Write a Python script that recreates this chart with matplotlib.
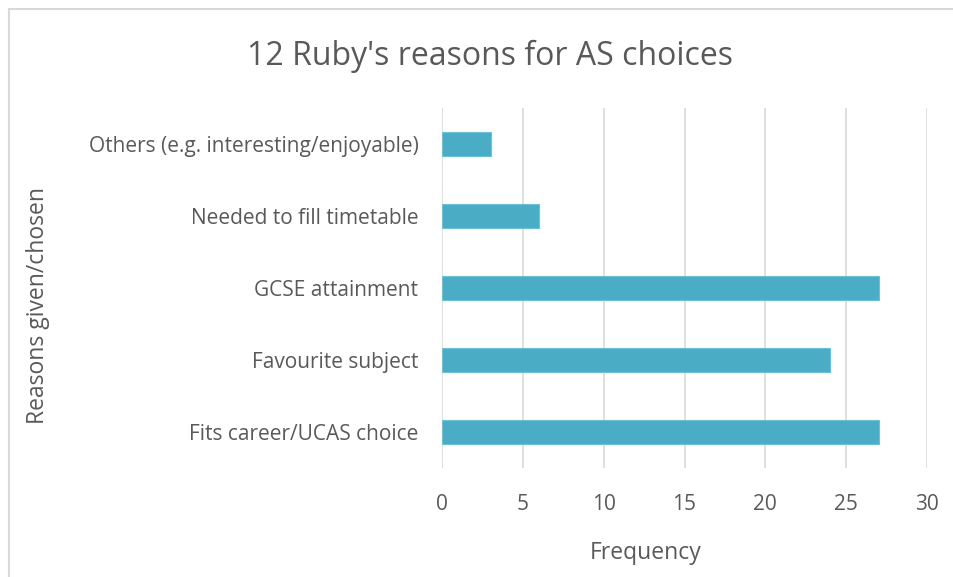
import matplotlib.pyplot as plt
from matplotlib.patches import Rectangle

# data, bottom to top as drawn
reasons = ["Fits career/UCAS choice", "Favourite subject", "GCSE attainment",
           "Needed to fill timetable", "Others (e.g. interesting/enjoyable)"]
counts = [27, 24, 27, 6, 3]
x_ticks = [0, 5, 10, 15, 20, 25, 30]

plt.rcParams["font.family"] = ["Open Sans", "DejaVu Sans"]
text_col = "#595959"

fig = plt.figure(figsize=(9.54, 5.77), dpi=100)
ax = fig.add_axes([442 / 954, 1 - 468 / 577, 485 / 954, 360 / 577])

# light frame around the chart area (cut off at right and bottom)
fig.patches.append(Rectangle((9 / 954, -0.05), 1.0, 1 - 9 / 577 + 0.05,
                             transform=fig.transFigure, fill=False,
                             edgecolor="#d9d9d9", linewidth=1.5))

ax.barh(range(len(reasons)), counts, height=0.34, color="#4bacc6",
        edgecolor="#6cc0d6", linewidth=0.8, zorder=3)

ax.set_xlim(0, 30)
ax.set_ylim(-0.5, len(reasons) - 0.5)
ax.set_xticks(x_ticks)
ax.set_yticks(range(len(reasons)))
ax.set_yticklabels(reasons)
ax.grid(axis="x", color="#d9d9d9", linewidth=1.2, zorder=0)
for s in ax.spines.values():
    s.set_visible(False)
ax.tick_params(axis="both", length=0, colors=text_col, labelsize=15)
ax.tick_params(axis="x", pad=19)
ax.tick_params(axis="y", pad=17)

fig.text(646 / 954, 1 - 553 / 577, "Frequency", ha="center", va="center",
         fontsize=16.5, color=text_col)
fig.text(38 / 954, 1 - 306 / 577, "Reasons given/chosen", rotation=90,
         ha="center", va="center", fontsize=16.5, color=text_col)
fig.text(490 / 954, 1 - 56 / 577, "12 Ruby's reasons for AS choices",
         ha="center", va="center", fontsize=23, color=text_col)

fig.savefig("out.png", dpi=100)
